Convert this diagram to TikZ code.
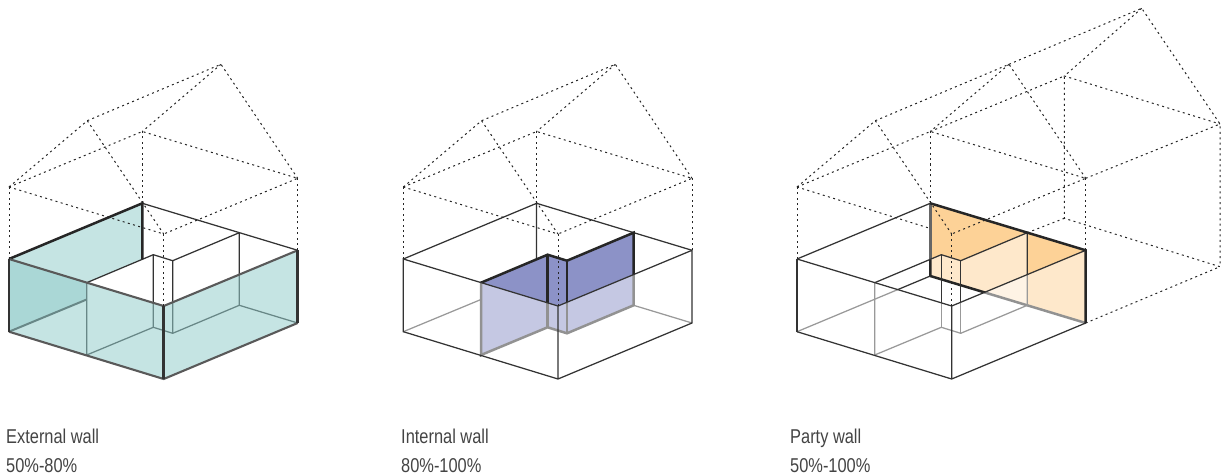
\documentclass[tikz,border=0pt]{standalone}
\usepackage{fontspec}
\setmainfont[FakeStretch=.82]{Liberation Sans}
\usepackage{tikz}
\definecolor{tealback}{HTML}{C5E4E3}
\definecolor{tealfront}{HTML}{95CDCC}
\definecolor{blueback}{HTML}{8C92C7}
\definecolor{orangeback}{HTML}{FDD297}
\definecolor{boxline}{HTML}{333333}
\definecolor{labeltext}{HTML}{444444}
\tikzset{
  roofline/.style={draw=black!85,line width=1pt,dash pattern=on 2pt off 3.4pt},
  thinline/.style={draw=boxline,line width=1.25pt},
  thickline/.style={draw=black!85,line width=2.5pt},
  heavyline/.style={draw=boxline,line width=2.1pt},
  seethrough/.style={fill=white,fill opacity=.5},
  walllabel/.style={anchor=base west,inner sep=0pt,text=labeltext,font=\fontsize{20}{20}\selectfont},
}

\begin{document}
\begin{tikzpicture}[x=1pt,y=-1pt]
  \useasboundingbox (0,0) rectangle (1221,476);

  \foreach \n/\dx in {1/0,2/394.3,3/788} {
    \path
    (\dx+9,259) coordinate(a\n)
    (\dx+142.3,203.3) coordinate(b\n)
    (\dx+297.7,250.3) coordinate(c\n)
    (\dx+163.7,306) coordinate(d\n)
    (\dx+9,331.7) coordinate(al\n)
    (\dx+142.3,276) coordinate(bl\n)
    (\dx+297.7,323) coordinate(cl\n)
    (\dx+163.7,379) coordinate(dl\n)
    (\dx+86.7,282.7) coordinate(e\n)
    (\dx+153.3,254.7) coordinate(f\n)
    (\dx+172.7,260.7) coordinate(g\n)
    (\dx+239.3,232.7) coordinate(h\n)
    (\dx+86.7,355) coordinate(el\n)
    (\dx+153.3,327.3) coordinate(fl\n)
    (\dx+172.7,333.3) coordinate(gl\n)
    (\dx+239.3,305.3) coordinate(hl\n)
    (\dx+142.3,259.3) coordinate(q\n)
    (\dx+86.7,299.5) coordinate(r\n)
    (\dx+9,187) coordinate(ar\n)
    (\dx+142.3,131.5) coordinate(br\n)
    (\dx+297.7,178.3) coordinate(cr\n)
    (\dx+163.7,234) coordinate(dr\n)
    (\dx+87.3,120.7) coordinate(pa\n)
    (\dx+221,64.3) coordinate(pb\n)
    ;
  }
  \path
  (1064.3,218.3) coordinate(bback)
  (1064.3,76) coordinate(brback)
  (1220,266.7) coordinate(cback)
  (1220,124) coordinate(crback)
  (1141.7,8.3) coordinate(pback)
  (930.7,228.6) coordinate(hide)
  ;

  % external wall
  \fill[tealback] (a1) -- (b1) -- (q1) -- (e1) -- (r1) -- (al1) -- cycle;
  \draw[thinline] (e1) -- (f1) -- (g1) -- (h1) (e1) -- (el1) -- (fl1) -- (gl1) -- (hl1) -- (h1);
  \draw[thinline] (f1) -- (fl1) (g1) -- (gl1) (hl1) -- (cl1);
  \draw[thinline,line width=2pt] (al1) -- (r1);
  \draw[thinline] (b1) -- (c1);
  \fill[tealfront,fill opacity=.55] (a1) -- (d1) -- (c1) -- (cl1) -- (dl1) -- (al1) -- cycle;
  \draw[thickline] (a1) -- (b1) -- (q1);
  \draw[heavyline,draw=black!65] (a1) -- (d1) -- (c1);
  \draw[heavyline,draw=black!65] (al1) -- (dl1) -- (cl1);
  \draw[thickline,draw=boxline] (a1) -- (al1) (d1) -- (dl1) (c1) -- (cl1);

  % internal wall
  \fill[blueback] (e2) -- (f2) -- (g2) -- (h2) -- (hl2) -- (gl2) -- (fl2) -- (el2) -- cycle;
  \draw[thinline] (a2) -- (b2) -- (c2) (b2) -- (q2) (al2) -- (r2) (hl2) -- (cl2);
  \draw[thickline] (e2) -- (f2) -- (g2) -- (h2) -- (hl2) -- (gl2) -- (fl2) -- (el2) -- cycle;
  \draw[thickline] (f2) -- (fl2) (g2) -- (gl2);
  \fill[seethrough] (a2) -- (d2) -- (c2) -- (cl2) -- (dl2) -- (al2) -- cycle;
  \draw[thinline] (a2) -- (d2) -- (c2) -- (cl2) -- (dl2) -- (al2) -- cycle (d2) -- (dl2);

  % party wall
  \fill[orangeback] (b3) -- (c3) -- (cl3) -- (bl3) -- cycle;
  \fill[seethrough] (e3) -- (f3) -- (g3) -- (h3) -- (hl3) -- (gl3) -- (fl3) -- (el3) -- cycle;
  \draw[thickline] (q3) -- (bl3) -- (cl3);
  \draw[thickline,draw=black!60] (b3) -- (q3);
  \draw[thinline] (al3) -- (bl3);
  \draw[thinline] (e3) -- (f3) -- (g3) -- (h3) -- (hl3) -- (gl3) -- (fl3) -- (el3) -- cycle;
  \draw[thinline] (f3) -- (fl3) (g3) -- (gl3);
  \fill[seethrough] (a3) -- (d3) -- (c3) -- (cl3) -- (dl3) -- (al3) -- cycle;
  \draw[thinline] (a3) -- (b3) (a3) -- (d3) -- (c3) (al3) -- (dl3) -- (cl3) (d3) -- (dl3);
  \draw[heavyline] (a3) -- (al3);
  \draw[thickline] (b3) -- (c3) -- (cl3);

  % roofs
  \foreach \n in {1,2,3} {
    \draw[roofline] (a\n) -- (ar\n) (b\n) -- (br\n) (c\n) -- (cr\n) (d\n) -- (dr\n);
    \draw[roofline] (ar\n) -- (br\n) -- (cr\n) -- (dr\n);
    \draw[roofline] (ar\n) -- (pa\n) -- (pb\n) -- (cr\n) (pa\n) -- (dr\n) (pb\n) -- (br\n);
  }
  \foreach \n in {1,2} {
    \draw[roofline] (ar\n) -- (dr\n);
  }
  \draw[roofline] (ar3) -- (hide);
  \draw[roofline] (pb3) -- (pback) -- (crback) -- (cr3) (pback) -- (brback) -- (crback);
  \draw[roofline] (br3) -- (brback) -- (bback) -- (cback) -- (crback);
  \draw[roofline] (h3) -- (bback) (cl3) -- (cback);

  \node[walllabel] (extname) at (6,443) {External wall};
  \node[walllabel] (extvalue) at (6,472) {50\%-80\%};
  \node[walllabel] (intname) at (401,443) {Internal wall};
  \node[walllabel] (intvalue) at (401,472) {80\%-100\%};
  \node[walllabel] (partyname) at (790,443) {Party wall};
  \node[walllabel] (partyvalue) at (790,472) {50\%-100\%};
\end{tikzpicture}
\end{document}
